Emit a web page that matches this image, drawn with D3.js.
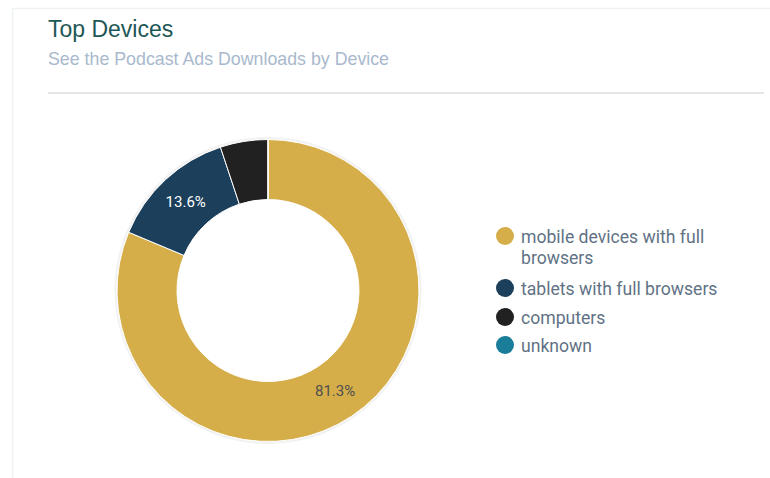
<!DOCTYPE html>
<html>
<head>
<meta charset="utf-8">
<script src="https://cdn.jsdelivr.net/npm/d3@7"></script>
<style>
  html, body { margin: 0; padding: 0; background: #fff; }
  svg { display: block; }
</style>
</head>
<body>
<svg id="chart" width="770" height="478"></svg>
<script>
const categories = ["mobile devices with full browsers", "tablets with full browsers", "computers", "unknown"];
const values = [81.3, 13.6, 5.1, 0.0];
const colors = ["#d5ae4a", "#1c3f5b", "#212121", "#1a7d9a"];
const legendLines = [["mobile devices with full", "browsers"], ["tablets with full browsers"], ["computers"], ["unknown"]];
const titleText = "Top Devices";
const subtitleText = "See the Podcast Ads Downloads by Device";

const svg = d3.select("#chart");
const W = 770, H = 478;

// card outline
svg.append("rect").attr("x", 12.5).attr("y", 8.5).attr("width", W).attr("height", H)
  .attr("fill", "#fff").attr("stroke", "#eef2f2").attr("stroke-width", 1.5);

svg.append("text").attr("x", 48).attr("y", 37)
  .attr("font-family", "Liberation Sans, Arial, sans-serif").attr("font-size", 23)
  .attr("fill", "#1d5756").text(titleText);
svg.append("text").attr("x", 48).attr("y", 65)
  .attr("font-family", "Liberation Sans, Arial, sans-serif").attr("font-size", 17.8)
  .attr("fill", "#a9b9cd").text(subtitleText);
svg.append("line").attr("x1", 48).attr("x2", 764).attr("y1", 93).attr("y2", 93)
  .attr("stroke", "#e4e6e6").attr("stroke-width", 2);

const cx = 268, cy = 290.5, rOuter = 151, rInner = 91;
const data = categories.map((c, i) => ({ name: c, value: values[i], color: colors[i], i }));
const pie = d3.pie().value(d => d.value).sort(null);
const arc = d3.arc().innerRadius(rInner).outerRadius(rOuter);
const g = svg.append("g").attr("transform", `translate(${cx},${cy})`);

g.append("circle").attr("r", rOuter + 1.5).attr("fill", "none").attr("stroke", "#f2f2f2").attr("stroke-width", 2);

const arcs = pie(data);
g.selectAll("path.slice").data(arcs).join("path").attr("class", "slice")
  .attr("d", arc).attr("fill", d => d.data.color)
  .attr("stroke", "#fff").attr("stroke-width", 1);

const total = d3.sum(values);
g.selectAll("text.lbl").data(arcs.filter(d => d.data.value / total >= 0.1)).join("text").attr("class", "lbl")
  .attr("transform", d => `translate(${arc.centroid(d)})`)
  .attr("text-anchor", "middle").attr("dy", "0.35em")
  .attr("font-family", "Roboto, sans-serif").attr("font-size", 15)
  .attr("fill", d => d.data.i === 0 ? "#4e4e4e" : "#ffffff")
  .text(d => d3.format(".1f")(d.data.value / total * 100) + "%");

// legend
const legendY = [236, 288, 317, 345];
const lg = svg.append("g");
data.forEach((d, i) => {
  lg.append("circle").attr("cx", 505).attr("cy", legendY[i]).attr("r", 9).attr("fill", d.color);
  const t = lg.append("text").attr("x", 521).attr("y", legendY[i] + 6.5)
    .attr("font-family", "Roboto, sans-serif").attr("font-size", 17.6).attr("fill", "#5f7285");
  legendLines[i].forEach((ln, j) => {
    t.append("tspan").attr("x", 521).attr("dy", j === 0 ? 0 : 21.5).text(ln);
  });
});
</script>
</body>
</html>
